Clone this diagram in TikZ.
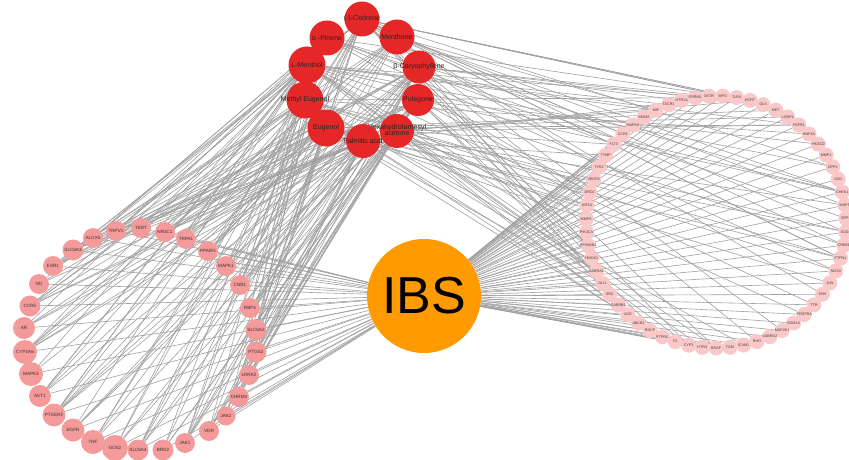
\documentclass[tikz,border=0pt]{standalone}
\usepackage{fontspec}
\setmainfont{Liberation Sans}
\pgfdeclarelayer{background}
\pgfsetlayers{background,main}
\definecolor{compred}{HTML}{E52727}
\definecolor{lpink}{HTML}{F59A9A}
\definecolor{rpink}{HTML}{FAC8C8}
\definecolor{ibsorange}{HTML}{FF9A00}
\definecolor{edgegray}{HTML}{A0A0A0}
\newcommand{\zlbl}[1]{\makebox[0pt]{#1}}
\begin{document}
\begin{tikzpicture}[x=1pt,y=-1pt,
  comp/.style={circle, fill=compred, minimum size=35pt, inner sep=0pt, text=black!85, font=\fontsize{7}{7.5}\selectfont},
  ltarget/.style={circle, fill=lpink, minimum size=21pt, inner sep=0pt, text=black!80, font=\fontsize{4.6}{5}\selectfont},
  rtarget/.style={circle, fill=rpink, minimum size=15pt, inner sep=0pt, text=black!75, font=\fontsize{3.7}{4}\selectfont},
  ibs/.style={circle, fill=ibsorange, minimum size=114pt, inner sep=0pt, font=\fontsize{52}{52}\selectfont},
  edge/.style={draw=edgegray, line width=0.6pt}]
\useasboundingbox (0,0) rectangle (849,460);

\node[ibs] (IBS) at (424,296) {IBS};

% compounds
\node[comp] (C1) at (362,19) {\zlbl{(-)-Cedrene}};
\node[comp] (C2) at (327,38) {\zlbl{α -Pinene}};
\node[comp] (C3) at (397,37) {\zlbl{Menthone}};
\node[comp, minimum size=37pt] (C4) at (307,65) {\zlbl{L-Menthol}};
\node[comp, minimum size=33pt] (C5) at (419,67) {\zlbl{β-Caryophyllene}};
\node[comp, minimum size=37pt] (C6) at (305,100) {\zlbl{Methyl Eugenol}};
\node[comp, minimum size=32pt] (C7) at (418,100) {\zlbl{Pulegone}};
\node[comp, minimum size=37pt] (C8) at (326,128) {\zlbl{Eugenol}};
\node[comp, minimum size=34pt] (C9) at (397,131) {\zlbl{\begin{tabular}{@{}c@{}}Hexahydrofarnesyl\\[-1pt]acetone\end{tabular}}};
\node[comp, minimum size=34pt] (C10) at (363,141) {\zlbl{Palmitic acid}};

% left ring of targets
\foreach \i/\x/\y/\s/\l in {
  1/93/238/20/ALOX5, 2/116/231/20/TRPV1, 3/141/228/20/TERT, 4/165/232/20/NR3C1,
  5/186/239/20/TRPA1, 6/208/251/20/PPARG, 7/226/266/20/MAPK1, 8/240/285/20/CNR1,
  9/250/308/20/RBP4, 10/256/330/21/SLC6A2, 11/256/352/21/PTGS2, 12/249/375/20/LRRK2,
  13/239/397/20/CHRM3, 14/226/416/19/JAK2, 15/209/431/20/VDR, 16/185/443/20/JAK1,
  17/163/450/21/BRD2, 18/138/450/21/SLC6A4, 19/115/448/26/NOS2, 20/93/442/24/TNF,
  21/73/430/23/EGFR, 22/54/415/23/PTGER2, 23/40/396/22/AKT1, 24/31/374/24/MAPK3,
  25/25/352/24/CYP2A6, 26/24/328/22/AR, 27/30/306/21/CCR5, 28/39/284/20/NO,
  29/53/266/20/ESR1, 30/73/250/21/SLC6A3}
  \node[ltarget, minimum size=\s pt] (L\i) at (\x,\y) {\zlbl{\l}};

% right ring of targets
\foreach \l [count=\i from 0] in {MPO,TLR4,HCRT,GLS,MET,LONP1,FGFR1,HNF4A,PIK3CD,MMP1,
  DPP4,SCD,CHEK1,MAPT,SPP1,SOD2,CREB1,PTPN1,NOS3,JUN,SHH,TTR,PDGFRA,KDM1A,MAP2K1,
  GABRG2,RHO,ICAM1,TGM,BRAF,HTR3,CYP3,F2,PTPRC,RNCF,ABCB1,ACE,GABRB1,SRC,GLI1,
  GABRA1,HMOX1,RPS6KB1,PIK3CA,MMP9,HIF1A,DRD2,VEGFA,TYK2,TYMP,FLT3,CCR1,MAPK8,
  MDM2,MIF,TACR1,HTR1A,OPRM1,OXTR}{
  \pgfmathsetmacro\ang{87-\i*6.10169}
  \node[rtarget] (R\i) at ({716+130*cos(\ang)},{222-126*sin(\ang)}) {\zlbl{\l}};
}

\begin{pgfonlayer}{background}
  \foreach \t in {1,...,30} \draw[edge] (IBS) -- (L\t);
  \foreach \t in {0,...,58} \draw[edge] (IBS) -- (R\t);
  \pgfmathsetseed{17}
  \foreach \c in {1,...,10}{
    \foreach \t in {1,...,30}{
      \pgfmathtruncatemacro\ok{rnd<0.42}
      \ifnum\ok=1 \draw[edge] (C\c) -- (L\t);\fi
    }
    \foreach \t in {0,...,58}{
      \pgfmathtruncatemacro\ok{rnd<0.16}
      \ifnum\ok=1 \draw[edge] (C\c) -- (R\t);\fi
    }
  }
\end{pgfonlayer}
\end{tikzpicture}
\end{document}
